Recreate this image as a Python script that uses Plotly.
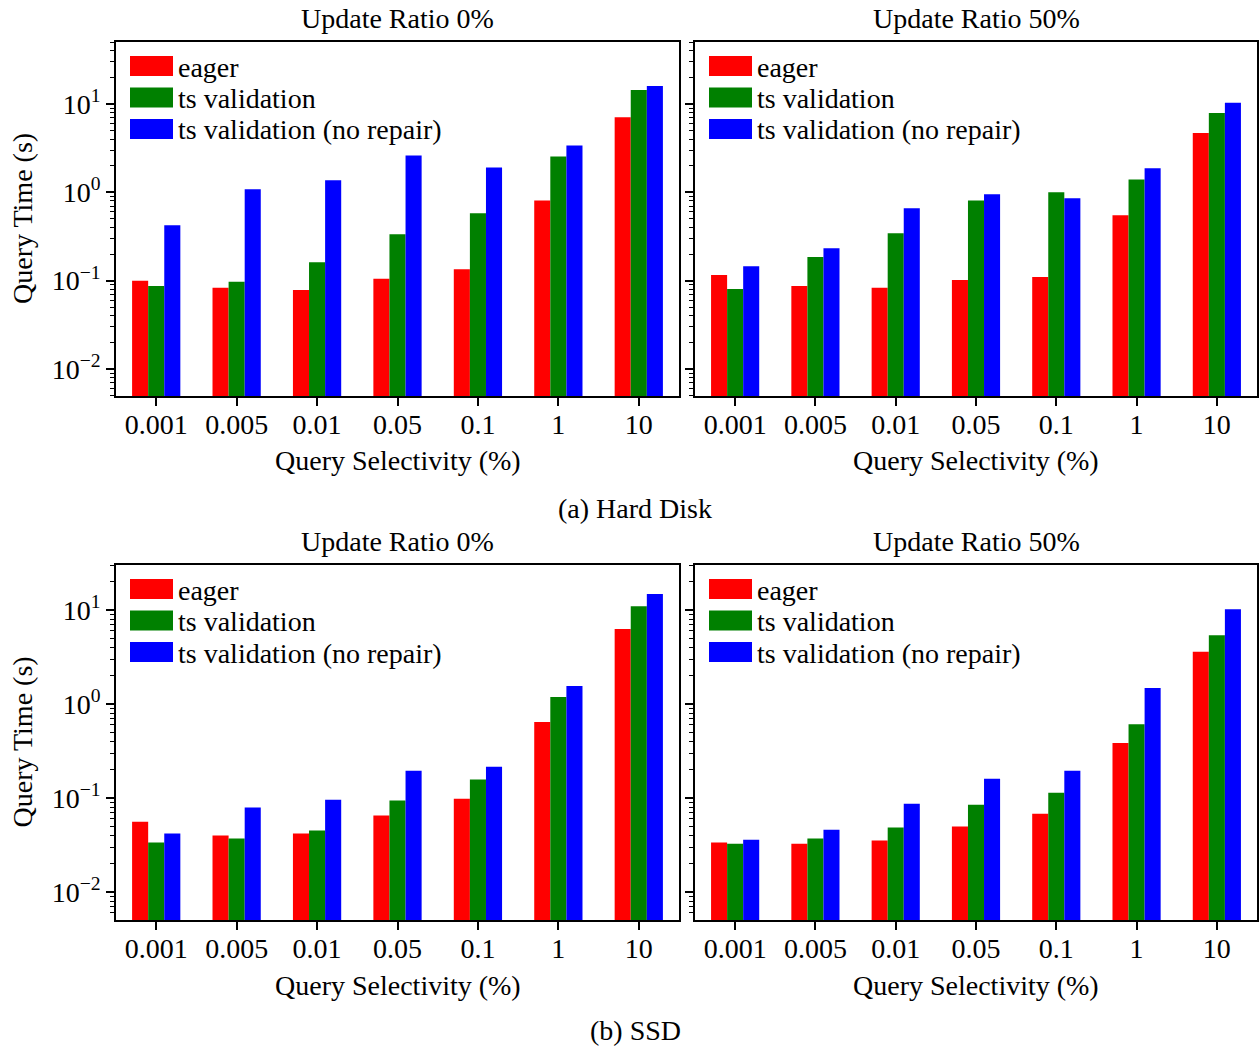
import plotly.graph_objects as go

W, H = 1259, 1049

categories = ["0.001", "0.005", "0.01", "0.05", "0.1", "1", "10"]
series_names = ["eager", "ts validation", "ts validation (no repair)"]
series_colors = ["#ff0000", "#008000", "#0000ff"]

# (a) Hard Disk, Update Ratio 0%
hdd0_eager = [0.100, 0.083, 0.0785, 0.105, 0.135, 0.81, 7.1]
hdd0_ts = [0.087, 0.097, 0.162, 0.336, 0.58, 2.55, 14.4]
hdd0_norepair = [0.425, 1.08, 1.37, 2.61, 1.91, 3.39, 16.0]

# (a) Hard Disk, Update Ratio 50%
hdd50_eager = [0.116, 0.087, 0.083, 0.102, 0.110, 0.55, 4.7]
hdd50_ts = [0.0805, 0.185, 0.345, 0.81, 1.00, 1.40, 7.9]
hdd50_norepair = [0.146, 0.233, 0.66, 0.95, 0.855, 1.87, 10.3]

# (b) SSD, Update Ratio 0%
ssd0_eager = [0.056, 0.0398, 0.0418, 0.065, 0.098, 0.644, 6.3]
ssd0_ts = [0.0336, 0.037, 0.045, 0.094, 0.157, 1.19, 11.0]
ssd0_norepair = [0.0418, 0.079, 0.096, 0.195, 0.215, 1.55, 14.8]

# (b) SSD, Update Ratio 50%
ssd50_eager = [0.0336, 0.0327, 0.0352, 0.0496, 0.068, 0.385, 3.6]
ssd50_ts = [0.0327, 0.037, 0.0484, 0.085, 0.114, 0.61, 5.4]
ssd50_norepair = [0.036, 0.046, 0.087, 0.16, 0.195, 1.48, 10.2]

panel_titles = ["Update Ratio 0%", "Update Ratio 50%"]
x_title = "Query Selectivity (%)"
y_title = "Query Time (s)"
captions = ["(a) Hard Disk", "(b) SSD"]

ytick_vals = [0.01, 0.1, 1, 10]
ytick_text = ["10<sup>−2</sup>", "10<sup>−1</sup>", "10<sup>0</sup>", "10<sup>1</sup>"]
minor_vals = [m * 10 ** e for e in range(-3, 2) for m in range(2, 10)]

FONT = "Liberation Serif"
FS = 28


def px(x):
    return x / W


def py(y):
    return 1 - y / H


panels = [
    # (xaxis id, yaxis id, x domain px, y domain px, y range, data)
    ("x", "y", (116, 679), (42, 396), (-2.306, 1.702), [hdd0_eager, hdd0_ts, hdd0_norepair]),
    ("x2", "y2", (695, 1257), (42, 396), (-2.306, 1.702), [hdd50_eager, hdd50_ts, hdd50_norepair]),
    ("x3", "y3", (116, 679), (565, 920), (-2.298, 1.479), [ssd0_eager, ssd0_ts, ssd0_norepair]),
    ("x4", "y4", (695, 1257), (565, 920), (-2.298, 1.479), [ssd50_eager, ssd50_ts, ssd50_norepair]),
]

fig = go.Figure()
layout = dict(
    width=W, height=H,
    margin=dict(l=0, r=0, t=0, b=0),
    paper_bgcolor="white", plot_bgcolor="white",
    font=dict(family=FONT, size=FS, color="black"),
    barmode="group", bargap=0.4, bargroupgap=0,
    showlegend=False,
)

annotations = []
shapes = []

for i, (xa, ya, xd, yd, yr, data) in enumerate(panels):
    for name, color, vals in zip(series_names, series_colors, data):
        fig.add_trace(go.Bar(
            x=categories, y=vals, name=name, xaxis=xa, yaxis=ya,
            marker=dict(color=color, line=dict(width=0)),
            showlegend=False,
        ))
    xkey = "xaxis" + xa[1:]
    ykey = "yaxis" + ya[1:]
    layout[xkey] = dict(
        domain=[px(xd[0]), px(xd[1])], anchor=ya,
        type="category", range=[-0.5, 6.5],
        showline=True, mirror=True, linecolor="black", linewidth=1.5,
        ticks="outside", ticklen=8, tickwidth=1.5, tickcolor="black",
        ticklabelstandoff=-5,
        showgrid=False, zeroline=False,
        tickfont=dict(family=FONT, size=FS, color="black"),
    )
    layout[ykey] = dict(
        domain=[py(yd[1]), py(yd[0])], anchor=xa,
        type="log", range=list(yr),
        tickmode="array", tickvals=ytick_vals, ticktext=ytick_text,
        showticklabels=(i % 2 == 0),
        showline=True, mirror=True, linecolor="black", linewidth=1.5,
        ticks="outside", ticklen=8, tickwidth=1.5, tickcolor="black",
        minor=dict(tickmode="array", tickvals=minor_vals, ticks="outside",
                   ticklen=4, tickwidth=1, tickcolor="black", showgrid=False),
        showgrid=False, zeroline=False,
        tickfont=dict(family=FONT, size=FS, color="black"),
    )
    xc = (xd[0] + xd[1]) / 2
    # panel title
    annotations.append(dict(text=panel_titles[i % 2], x=px(xc), y=py(yd[0] - 24),
                            xref="paper", yref="paper", showarrow=False,
                            xanchor="center", yanchor="middle"))
    # x axis title
    annotations.append(dict(text=x_title, x=px(xc), y=py(yd[1] + 65),
                            xref="paper", yref="paper", showarrow=False,
                            xanchor="center", yanchor="middle"))
    # y axis title
    if i % 2 == 0:
        annotations.append(dict(text=y_title, x=px(22), y=py((yd[0] + yd[1]) / 2),
                                xref="paper", yref="paper", showarrow=False,
                                textangle=-90, xanchor="center", yanchor="middle"))
    # legend (manual, inside top-left)
    for k, (name, color) in enumerate(zip(series_names, series_colors)):
        cy = yd[0] + 24 + k * 31.5
        x0 = xd[0] + 14
        shapes.append(dict(type="rect", xref="paper", yref="paper",
                           x0=px(x0), x1=px(x0 + 43), y0=py(cy - 10), y1=py(cy + 10),
                           fillcolor=color, line=dict(width=0)))
        annotations.append(dict(text=name, x=px(x0 + 46), y=py(cy + 1),
                                xref="paper", yref="paper", showarrow=False,
                                xanchor="left", yanchor="middle"))

annotations.append(dict(text=captions[0], x=px(635), y=py(508), xref="paper", yref="paper",
                        showarrow=False, xanchor="center", yanchor="middle"))
annotations.append(dict(text=captions[1], x=px(635), y=py(1030), xref="paper", yref="paper",
                        showarrow=False, xanchor="center", yanchor="middle"))

layout["annotations"] = annotations
layout["shapes"] = shapes
fig.update_layout(**layout)
fig.write_html("out.html")
